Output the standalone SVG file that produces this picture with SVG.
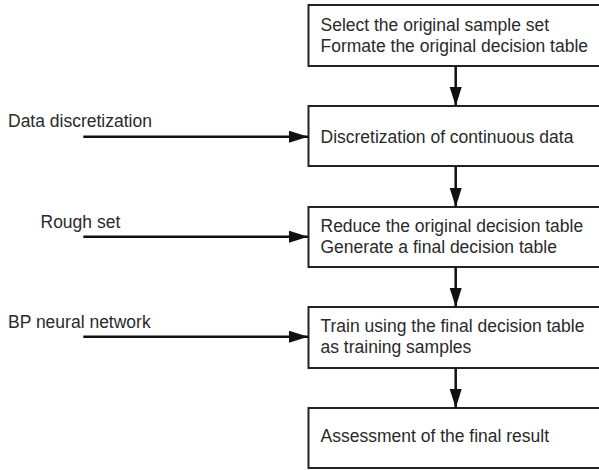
<svg xmlns="http://www.w3.org/2000/svg" width="599" height="470" viewBox="0 0 599 470">
<defs>
<marker id="ah" markerUnits="userSpaceOnUse" markerWidth="20" markerHeight="14" refX="19" refY="6" orient="auto">
<path d="M0,0 L19,6 L0,12 Z" fill="#111"/>
</marker>
<style>
.box{fill:#fff;stroke:#222;stroke-width:2}
.t{font-family:"Liberation Sans",Arial,sans-serif;font-size:17.5px;fill:#2a2a2a}
.c{stroke:#111;stroke-width:2.5;fill:none;marker-end:url(#ah)}
</style>
</defs>
<rect width="599" height="470" fill="#fff"/>
<g id="n1"><rect class="box" x="308.5" y="5" width="300" height="61"/>
<text class="t" x="320.5" y="30.7">Select the original sample set</text>
<text class="t" x="320.5" y="51.7">Formate the original decision table</text></g>
<g id="n2"><rect class="box" x="308.5" y="106" width="300" height="60"/>
<text class="t" x="320.5" y="143">Discretization of continuous data</text></g>
<g id="n3"><rect class="box" x="308.5" y="207" width="300" height="60"/>
<text class="t" x="320.5" y="232">Reduce the original decision table</text>
<text class="t" x="320.5" y="253">Generate a final decision table</text></g>
<g id="n4"><rect class="box" x="308.5" y="307" width="300" height="61"/>
<text class="t" x="320.5" y="332">Train using the final decision table</text>
<text class="t" x="320.5" y="353">as training samples</text></g>
<g id="n5"><rect class="box" x="308.5" y="408" width="300" height="60"/>
<text class="t" x="320.5" y="442">Assessment of the final result</text></g>
<g id="l1"><text class="t" x="8" y="126.5">Data discretization</text></g>
<g id="l2"><text class="t" x="40.5" y="228">Rough set</text></g>
<g id="l3"><text class="t" x="8" y="328">BP neural network</text></g>
<g id="connectors">
<line class="c" x1="455.7" y1="66" x2="455.7" y2="106"/>
<line class="c" x1="455.7" y1="166" x2="455.7" y2="207"/>
<line class="c" x1="455.7" y1="267" x2="455.7" y2="307"/>
<line class="c" x1="455.7" y1="368" x2="455.7" y2="408"/>
<line class="c" x1="83.3" y1="136.7" x2="308" y2="136.7"/>
<line class="c" x1="83.3" y1="236.7" x2="308" y2="236.7"/>
<line class="c" x1="83.3" y1="336.7" x2="308" y2="336.7"/>
</g>
</svg>
